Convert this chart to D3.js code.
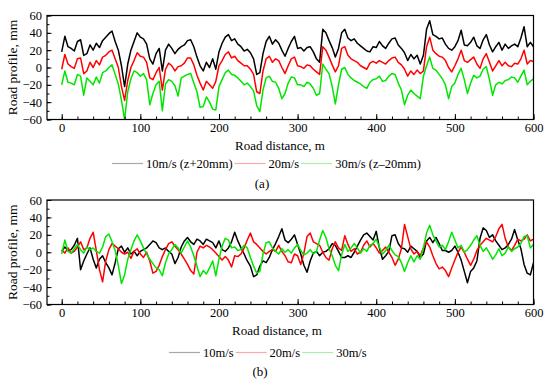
<!DOCTYPE html>
<html><head><meta charset="utf-8">
<script src="https://cdn.jsdelivr.net/npm/d3@7/dist/d3.min.js"></script>
<style>
body{margin:0;background:#fff;}
</style></head>
<body><svg id="c" width="550" height="383"></svg>
<script>
// sample spacing along the road, m
const STEP = 4;
const xTicks = [0,100,200,300,400,500,600];
const yTicks = [-60,-40,-20,0,20,40,60];

// Panel (a)
const a10 = [18,36,24,22,19,30,32,14,16,26, 20,28,23,31,35,39,42,30,20,2,
 -22,4,20,30,40,35,33,27,10,4, 16,22,-4,20,27,22,16,21,24,26,
 31,32,24,12,2,-4,6,0,10,-2, 18,28,35,38,31,33,27,24,19,21,
 17,10,-8,-6,16,30,36,27,32,28, 20,13,22,30,36,22,23,19,23,24,
 18,10,6,44,40,31,23,12,22,40, 44,34,31,33,28,25,22,19,18,24,
 23,30,25,22,28,33,34,26,22,17, 8,15,10,14,4,14,44,54,38,36,
 33,34,27,22,20,24,31,43,26,25, 29,35,25,22,32,38,26,18,24,29,
 20,27,22,25,27,24,34,47,24,29, 24];
const a20 = [-2,15,4,1,-1,10,11,-7,-4,6, 0,8,3,12,14,18,20,10,0,-22,
 -38,-15,0,8,17,13,12,6,-12,-14, -6,0,-26,-2,5,2,-4,1,2,5,
 11,11,3,-9,-18,-26,-16,-20,-24,-16, 2,8,15,18,11,13,8,5,2,2,
 -2,-8,-28,-30,-4,10,13,6,10,8, 0,-7,2,10,12,2,1,-1,3,2,
 -2,-5,-8,24,20,12,3,-5,2,22, 24,14,10,8,6,2,0,-2,5,7,
 5,8,6,4,8,11,12,6,3,-2, -10,-4,-8,-3,-7,-4,24,35,20,16,
 13,12,8,0,-5,2,10,20,8,6, 9,12,4,-1,10,16,6,-4,2,8,
 2,6,2,1,5,4,10,20,4,8, 7];
const a30 = [-20,-4,-17,-18,-20,-8,-10,-32,-12,-16, -20,-11,-18,-6,-4,0,3,-8,-19,-38,
 -60,-28,-13,-4,-6,-10,-7,-14,-43,-30, -20,-16,-50,-19,-14,-16,-21,-33,-12,-10,
 -8,-7,-18,-28,-46,-45,-34,-40,-48,-49, -22,-14,-6,-3,-8,-9,-12,-16,-20,-18,
 -22,-27,-44,-51,-26,-12,-10,-16,-17,-24, -36,-30,-18,-11,-12,-20,-20,-22,-17,-19,
 -24,-32,-30,4,-2,-7,-22,-42,-20,-2, 0,-8,-12,-15,-17,-19,-22,-24,-17,-14,
 -13,-10,-16,-15,-10,-7,-8,-18,-26,-43, -32,-26,-30,-33,-36,-10,2,12,-1,-3,
 -8,-13,-20,-36,-22,-18,-8,-1,-14,-30, -18,-9,-12,-10,-2,1,-14,-32,-20,-17,
 -19,-15,-14,-11,-12,-17,-10,-3,-20,-16, -13];

// Panel (b)
const b10 = [1,6,2,3,8,16,-20,-10,-2,5, -8,-18,-8,-4,-12,-18,-26,-12,4,7,
 0,5,-2,1,-4,1,3,5,9,13, 11,5,3,5,1,-2,-13,-6,6,13,
 17,12,9,15,13,9,15,13,11,5, 13,3,1,5,12,23,13,5,-2,-10,
 -16,-28,-26,-16,-10,-12,-6,3,10,18, 27,14,11,15,20,9,-2,-15,-23,-10,
 -1,1,-4,0,1,4,10,8,1,-6, -6,-4,-6,0,7,14,20,22,18,14,
 24,5,-8,-4,1,19,20,10,5,4, 0,7,4,1,-6,-2,13,17,11,17,
 10,2,2,0,2,7,0,-9,-22,-35, -22,-18,-10,16,28,25,17,20,13,8,
 3,5,9,15,26,14,4,-14,-24,-26, -12];
const b20 = [3,-1,5,-1,1,6,12,3,5,16, 23,2,-20,-34,-10,3,10,7,4,0,
 -2,0,-7,1,4,-2,-6,0,-10,-24, -22,-15,-5,3,10,12,7,3,-2,-8,
 -14,-21,-25,0,7,5,8,6,3,-1, -5,-9,-5,-9,-17,-4,-5,-2,5,14,
 22,12,9,5,1,-2,1,3,1,8, 1,-4,-11,-12,-2,-4,-14,-1,18,22,
 12,10,8,0,-6,-9,4,12,5,2, 19,9,1,4,-2,0,8,13,6,10,
 5,-1,2,6,0,-6,-15,-8,4,32, 18,4,-2,1,-4,5,12,6,-4,-13,
 -19,-17,-21,-28,-18,-9,0,6,0,-8, -15,-8,2,8,12,16,14,12,18,27,
 32,16,6,2,8,15,13,15,20,13, 15];
const b30 = [-2,14,1,-1,4,9,3,-1,6,3, 5,1,-1,6,18,21,12,2,-15,-36,
 -26,-8,3,13,20,13,5,-2,-8,-13, -18,-20,-27,-12,-2,3,9,5,-1,6,
 13,6,-4,-16,-28,-21,-25,-18,-10,-27, -8,7,16,14,5,6,2,3,8,5,
 -6,-16,-24,-22,-2,11,12,5,1,-2, 4,0,3,-1,5,9,2,-3,-1,3,
 -2,1,14,25,17,4,-4,-15,-21,-3, 9,1,5,10,5,-1,4,1,8,10,
 15,6,-2,2,8,2,-3,-5,-12,-22, -12,-4,-11,-4,-8,5,22,31,20,13,
 6,8,3,12,23,14,5,8,0,3, 8,14,19,8,1,5,-1,-8,-3,4,
 -4,-1,6,1,4,6,10,18,19,5, 9];

const legendA = ["10m/s (z+20mm)","20m/s","30m/s (z\u201320mm)"];
const legendB = ["10m/s","20m/s","30m/s"];
const colors = ["#000000","#ff0000","#00e600"];
const legendColors = ["#a8a8a8","#ffa8a8","#a8f0a8"];
const FONT = "'Liberation Serif', 'Times New Roman', 'DejaVu Serif', serif";

const svg = d3.select("#c").attr("font-family", FONT);
const x = d3.scaleLinear().domain([-18.7,600]).range([47,533.5]);

function panel(cfg){
  const y = d3.scaleLinear().domain([-60,60]).range([cfg.bottom,cfg.top]);
  const g = svg.append("g");
  const cid = "clip"+cfg.id;
  svg.append("clipPath").attr("id",cid).append("rect")
    .attr("x",47).attr("y",cfg.top).attr("width",486.5).attr("height",cfg.bottom-cfg.top);
  const line = d3.line().x((d,i)=>x(i*STEP)).y(d=>y(d));
  cfg.series.forEach((s,k)=>{
    g.append("path").datum(s).attr("d",line).attr("fill","none")
      .attr("stroke",colors[k]).attr("stroke-width",1.5).attr("stroke-linejoin","round")
      .attr("clip-path",`url(#${cid})`);
  });
  // minor ticks
  g.append("g").attr("transform",`translate(0,${cfg.bottom})`)
    .call(d3.axisBottom(x).tickValues(d3.range(0,601,20)).tickSize(-3).tickFormat(""))
    .call(a=>a.select(".domain").remove());
  g.append("g").attr("transform",`translate(47,0)`)
    .call(d3.axisLeft(y).tickValues(d3.range(-60,61,10)).tickSize(-2.5).tickFormat(""))
    .call(a=>a.select(".domain").remove());
  const xa = g.append("g").attr("transform",`translate(0,${cfg.bottom})`)
    .call(d3.axisBottom(x).tickValues(xTicks).tickSize(-5.5).tickPadding(4).tickFormat(d3.format("d")));
  xa.select(".domain").remove();
  const ya = g.append("g").attr("transform",`translate(47,0)`)
    .call(d3.axisLeft(y).tickValues(yTicks).tickSize(-4.5).tickPadding(5).tickFormat(d=>d<0?"\u2212"+(-d):d));
  ya.select(".domain").remove();
  g.selectAll(".tick text").attr("font-size","12.5px").attr("font-family",FONT);
  g.selectAll(".tick line").attr("stroke","#000");
  g.append("rect").attr("x",47).attr("y",cfg.top).attr("width",486.5).attr("height",cfg.bottom-cfg.top)
    .attr("fill","none").attr("stroke","#000").attr("stroke-width",1.2);
  g.append("text").attr("transform",`translate(17,${(cfg.top+cfg.bottom)/2}) rotate(-90)`)
    .attr("text-anchor","middle").attr("font-size","13.5px").attr("font-family",FONT).text("Road profile, mm");
  g.append("text").attr("x",cfg.titleX).attr("y",cfg.titleY).attr("text-anchor","middle")
    .attr("font-size","13px").attr("font-family",FONT).text("Road distance, m");
  // legend
  let lx = cfg.legendX;
  cfg.legend.forEach((t,k)=>{
    g.append("line").attr("x1",lx).attr("x2",lx+31).attr("y1",cfg.legendY-4).attr("y2",cfg.legendY-4)
      .attr("stroke",legendColors[k]).attr("stroke-width",1.2);
    const tx = g.append("text").attr("x",lx+34).attr("y",cfg.legendY).attr("font-size","12.5px")
      .attr("font-family",FONT).text(t);
    lx += 34 + tx.node().getComputedTextLength() + 2;
  });
  g.append("text").attr("x",cfg.capX).attr("y",cfg.capY).attr("text-anchor","middle")
    .attr("font-size","13px").attr("font-family",FONT).text(cfg.cap);
}

panel({id:"a",top:15.5,bottom:119.5,series:[a10,a20,a30],legend:legendA,
  titleX:280,titleY:149.5,legendX:112,legendY:167.5,cap:"(a)",capX:262,capY:188});
panel({id:"b",top:200,bottom:304.5,series:[b10,b20,b30],legend:legendB,
  titleX:277,titleY:334.5,legendX:169,legendY:356.5,cap:"(b)",capX:260,capY:375.5});
</script></body></html>
